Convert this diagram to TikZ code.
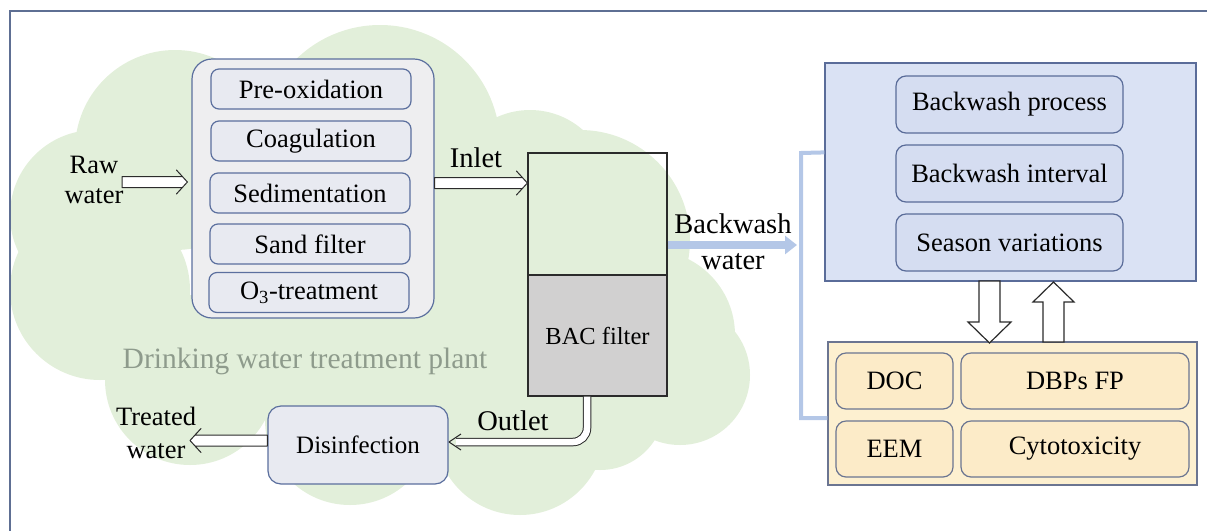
\documentclass[tikz,border=0pt]{standalone}
\usepackage{fontspec}
\setmainfont{Liberation Serif}
\newfontfamily\tnr{Liberation Serif}
\usetikzlibrary{arrows.meta,calc}
\definecolor{cloudc}{HTML}{E2EFDA}
\definecolor{borderc}{HTML}{5E6F93}
\definecolor{procout}{HTML}{EEEEF0}
\definecolor{procin}{HTML}{E8EAF1}
\definecolor{procline}{HTML}{5B6F9E}
\definecolor{bluefill}{HTML}{DAE2F4}
\definecolor{blueline}{HTML}{5A6C99}
\definecolor{blueinner}{HTML}{D5DDF1}
\definecolor{yfill}{HTML}{FDF0D0}
\definecolor{yline}{HTML}{6B7591}
\definecolor{yinner}{HTML}{FCEBC8}
\definecolor{tankline}{HTML}{2B2B2B}
\definecolor{bacfill}{HTML}{D1D0D0}
\definecolor{lblue}{HTML}{B4C7E7}
\definecolor{plantc}{HTML}{8E9B8C}
\newcommand\hollowarrow[2]{%
  \filldraw[harrow] let \p1=(#1), \p2=(#2), \n1={sign(\x2-\x1)} in
   ({\x1},{\y1+5.5pt}) -- ({\x2-\n1*5pt},{\y1+5.5pt}) -- ({\x2-\n1*11pt},{\y1+12pt})
   -- ({\x2},{\y1}) -- ({\x2-\n1*11pt},{\y1-12pt}) -- ({\x2-\n1*5pt},{\y1-5.5pt})
   -- ({\x1},{\y1-5.5pt}) -- cycle;}
\begin{document}
\begin{tikzpicture}[x=1pt,y=-1pt,
  every node/.style={inner sep=0pt, text=black, font=\tnr\fontsize{26.5}{30}\selectfont},
  bigbox/.style={draw=procline, fill=procout, line width=1.2pt, rounded corners=20pt},
  procbox/.style={draw=procline, fill=procin, line width=1.2pt, rounded corners=8pt,
     minimum width=200pt, minimum height=40pt},
  disbox/.style={draw=procline, fill=procin, line width=1.2pt, rounded corners=13pt,
     minimum width=180pt, minimum height=78pt},
  bluebox/.style={draw=blueline, fill=bluefill, line width=1.2pt},
  blueitem/.style={draw=blueline, fill=blueinner, line width=1.2pt, rounded corners=10pt,
     minimum width=227pt, minimum height=57pt},
  ybox/.style={draw=yline, fill=yfill, line width=1.2pt},
  yitem/.style={draw=yline, fill=yinner, line width=1.2pt, rounded corners=10pt, minimum height=56pt},
  harrow/.style={draw=tankline, fill=white, line width=1pt, line join=round},
  blockarrow/.style={draw=tankline, fill=white, line width=1.2pt},
  pipe/.style={draw=tankline, line width=1pt, double=white, double distance=6.5pt, rounded corners=14pt},
  label/.style={font=\tnr\fontsize{28.5}{36}\selectfont, align=center}
]
\useasboundingbox (0,0) rectangle (1207,531);
% cloud
\fill[cloudc]
  (380,145) circle[radius=120pt]
  (175,150) circle[radius=100pt]
  (95,215) circle[radius=85pt]
  (100,290) circle[radius=90pt]
  (190,380) circle[radius=85pt]
  (350,420) circle[radius=85pt]
  (520,430) circle[radius=85pt]
  (600,405) circle[radius=65pt]
  (680,375) circle[radius=70pt]
  (650,335) circle[radius=85pt]
  (580,240) circle[radius=110pt]
  (530,190) circle[radius=80pt]
  (400,290) circle[radius=170pt];
% outer frame
\draw[borderc, line width=1.5pt] (1207,11) -- (10,11) -- (10,531);

% treatment train
\node[bigbox, minimum width=242pt, minimum height=259pt] (proc) at (313,188.5) {};
\node[procbox] (pre)  at (311,89)    {Pre-oxidation};
\node[procbox] (coag) at (311,141)   {Coagulation};
\node[procbox] (sed)  at (310,193)   {Sedimentation};
\node[procbox] (sand) at (310,244)   {Sand filter};
\node[procbox] (ozo)  at (309,292.5) {O\textsubscript{3}-treatment};

\node[align=center] (raw) at (94,180) {Raw\\water};
\coordinate (rawtail) at (122,182);
\hollowarrow{rawtail}{[xshift=-4pt]proc.west |- rawtail}

% BAC tank
\node[draw=tankline, line width=1.2pt, minimum width=139pt, minimum height=243pt] (tank) at (597.5,274.5) {};
\node[draw=tankline, fill=bacfill, line width=1.2pt, minimum width=139pt, minimum height=121pt,
      font=\tnr\fontsize{24.5}{28}\selectfont] (bac) at (597.5,335.5) {BAC filter};

\coordinate (inl) at (434,183);
\hollowarrow{proc.east |- inl}{tank.west |- inl}
\node[label] (inlet) at (476,158) {Inlet};

\node[font=\tnr\fontsize{29.5}{34}\selectfont, text=plantc] (plant) at (305,361) {Drinking water treatment plant};

% disinfection
\node[disbox, font=\tnr\fontsize{25}{30}\selectfont] (dis) at (358,445) {Disinfection};
\draw[pipe] ([xshift=-10.5pt]tank.south) -- (587,442) -- (456,442);
\draw[draw=tankline, line width=1pt, line join=round] (461,434) -- (449,442) -- (461,450);
\node[label] (outlet) at (513,421) {Outlet};

\node[align=center, font=\tnr\fontsize{26.5}{33}\selectfont] (treated) at (156,433) {Treated\\water};
\coordinate (trtip) at (190,440);
\hollowarrow{[yshift=4.5pt]dis.west}{trtip}

% right side
\node[bluebox, minimum width=371pt, minimum height=218pt] (blue) at (1010.5,172) {};
\node[blueitem] (bp) at (1009.5,104.5) {Backwash process};
\node[blueitem] (bi) at (1009.5,173.5) {Backwash interval};
\node[blueitem] (sv) at (1009.5,242.5) {Season variations};

\node[ybox, minimum width=369pt, minimum height=143pt] (yb) at (1012.5,413.5) {};
\node[yitem, minimum width=117pt] (doc)  at (894.5,381) {DOC};
\node[yitem, minimum width=228pt] (dbp)  at (1075,381)  {DBPs FP};
\node[yitem, minimum width=117pt] (eem)  at (894.5,449) {EEM};
\node[yitem, minimum width=228pt] (cyto) at (1075,449)  {Cytotoxicity};

% backwash water
\draw[lblue, line width=8pt, -{Triangle[length=12pt,width=18pt]}] (tank.east |- 0,245) -- (797,245);
\node[label] (bw) at (733,241.5) {Backwash\\water};
\draw[lblue, line width=4pt] (blue.west |- tank.north) -- (801,153) -- (801,418) -- (yb.west |- 0,418);

% exchange arrows
\draw[blockarrow] (979,281) -- (1000,281) -- (1000,322) -- (1011,322) -- (989.5,343) -- (968,322) -- (979,322) -- cycle;
\draw[blockarrow] (1043,342) -- (1064,342) -- (1064,302) -- (1074,302) -- (1053.5,282) -- (1033,302) -- (1043,302) -- cycle;
\end{tikzpicture}
\end{document}
